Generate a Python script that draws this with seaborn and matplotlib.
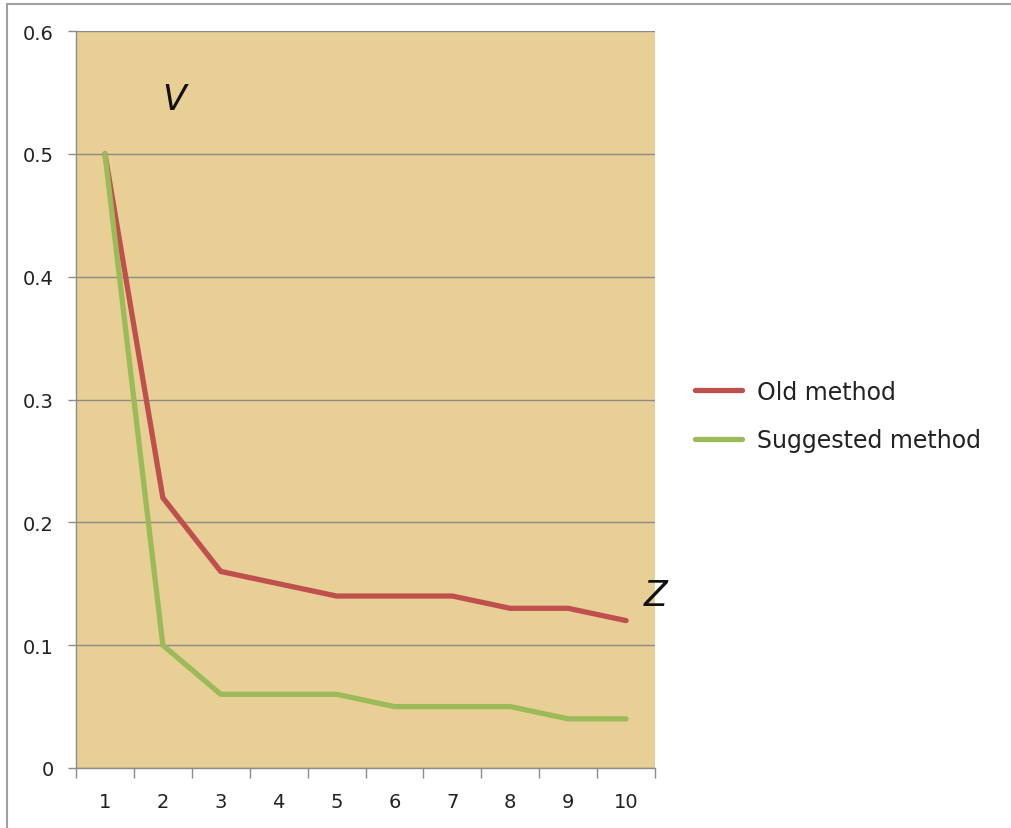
import matplotlib
matplotlib.use("Agg")
import matplotlib.pyplot as plt
from matplotlib.lines import Line2D
from matplotlib.ticker import FixedLocator, NullFormatter
import seaborn as sns
import pandas as pd

# data
steps = [1, 2, 3, 4, 5, 6, 7, 8, 9, 10]
old_method = [0.50, 0.22, 0.16, 0.15, 0.14, 0.14, 0.14, 0.13, 0.13, 0.12]
suggested_method = [0.50, 0.10, 0.06, 0.06, 0.06, 0.05, 0.05, 0.05, 0.04, 0.04]
y_ticks = [0, 0.1, 0.2, 0.3, 0.4, 0.5, 0.6]
y_labels = ["0", "0.1", "0.2", "0.3", "0.4", "0.5", "0.6"]
series_names = ["Old method", "Suggested method"]

df = pd.DataFrame({
    "step": steps * 2,
    "value": old_method + suggested_method,
    "method": [series_names[0]] * len(steps) + [series_names[1]] * len(steps),
})

sns.set_style("white")
plt.rcParams["font.family"] = ["DejaVu Sans"]

fig = plt.figure(figsize=(10.11, 8.29), dpi=100)
ax = fig.add_axes([76 / 1011, 1 - 769 / 829, (655 - 76) / 1011, (769 - 32) / 829])
ax.set_facecolor("#E8CF96")

palette = {"Old method": "#C0504D", "Suggested method": "#9BBB59"}
sns.lineplot(data=df, x="step", y="value", hue="method", palette=palette,
             linewidth=3.8, ax=ax, legend=False, solid_capstyle="round")

ax.set_xlim(0.5, 10.5)
ax.set_ylim(0, 0.6)
ax.set_yticks(y_ticks)
ax.set_yticklabels(y_labels)
ax.yaxis.grid(True, color="#8C8A84", linewidth=1.0)
ax.set_axisbelow(True)

ax.set_xticks(steps)
ax.set_xticklabels([str(s) for s in steps])
ax.xaxis.set_minor_locator(FixedLocator([s - 0.5 for s in steps] + [10.5]))
ax.xaxis.set_minor_formatter(NullFormatter())
ax.tick_params(axis="x", which="major", length=0, pad=17, labelsize=14, colors="#222222")
ax.tick_params(axis="x", which="minor", length=7, width=1, color="#8C8C8C", direction="out")
ax.tick_params(axis="y", which="major", length=6, width=1, color="#8C8C8C",
               direction="out", pad=10, labelsize=14, labelcolor="#222222")
ax.tick_params(bottom=True, left=True, which="both")

for side in ["top", "right"]:
    ax.spines[side].set_visible(False)
for side in ["left", "bottom"]:
    ax.spines[side].set_color("#8C8C8C")
    ax.spines[side].set_linewidth(1)

ax.set_xlabel("")
ax.set_ylabel("")

ax.text(2.2, 0.545, "V", fontsize=25, style="italic", ha="center", va="center", color="#111111")
fig.text(656 / 1011, 1 - 596 / 829, "Z", fontsize=25, style="italic", ha="center", va="center",
         color="#111111")

handles = [Line2D([0], [0], color=palette[n], linewidth=3.8) for n in series_names]
fig.legend(handles, series_names, loc="center left", bbox_to_anchor=(674 / 1011, 1 - 417 / 829),
           frameon=False, fontsize=17, handlelength=2.0, labelspacing=1.05, handletextpad=0.6,
           labelcolor="#222222")

# outer chart border (top and left only)
fig.add_artist(Line2D([7 / 1011, 1], [1 - 5 / 829, 1 - 5 / 829], color="#A0A0A0", linewidth=1.5))
fig.add_artist(Line2D([7 / 1011, 7 / 1011], [0, 1 - 5 / 829], color="#A0A0A0", linewidth=1.5))

fig.savefig("out.png", dpi=100)
